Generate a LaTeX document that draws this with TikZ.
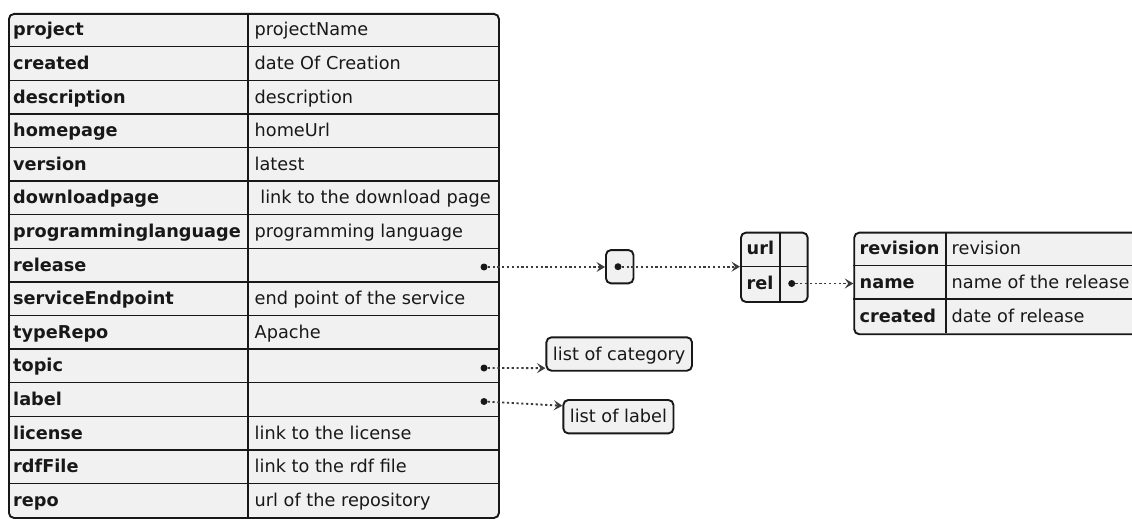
\documentclass[tikz,border=0pt]{standalone}
\usepackage{fontspec}
\setmainfont{DejaVu Sans}
\usetikzlibrary{arrows.meta,calc}
\definecolor{cellfill}{HTML}{F1F1F1}
\definecolor{ink}{HTML}{181818}

\begin{document}
\begin{tikzpicture}[x=1pt,y=-1pt,
  txt/.style={inner sep=0pt, text=ink, font=\fontsize{17.7}{21}\selectfont},
  key/.style={txt, anchor=base west, font=\fontsize{17.7}{21}\selectfont\bfseries},
  val/.style={txt, anchor=base west},
  frame/.style={draw=ink, fill=cellfill, line width=1.9pt, rounded corners=5pt},
  rule/.style={draw=ink, line width=1.4pt},
  pin/.style={circle, fill=ink, inner sep=0pt, minimum size=7pt},
  link/.style={draw=ink!85, line width=1.8pt, dash pattern=on 2.2pt off 2.6pt,
    -{Stealth[length=8.5pt,width=10pt,inset=3.5pt]}},
  tag/.style={frame, txt, inner xsep=6.5pt, inner ysep=0pt,
    text height=14pt, text depth=2pt, minimum height=33.4pt}
]
\useasboundingbox (0,0) rectangle (1132,519);
\clip (0,0) rectangle (1132,519);
\fill[white] (0,0) rectangle (1132,519);

% ---- project record ----
\node[frame, anchor=north west, minimum width=490pt, minimum height=504pt] (main) at (8,13) {};
\draw[rule] (248,13) -- (248,517);
\foreach \i in {1,...,14}
  \draw[rule] (8,{13+33.6*\i}) -- (498,{13+33.6*\i});

\foreach \k/\v [count=\i] in {
  project/projectName,
  created/date Of Creation,
  description/description,
  homepage/homeUrl,
  version/latest,
  downloadpage/\ link to the download page,
  programminglanguage/programming language,
  release/,
  serviceEndpoint/end point of the service,
  typeRepo/Apache,
  topic/,
  label/,
  license/link to the license,
  rdfFile/link to the rdf file,
  repo/url of the repository}
{
  \node[key] (k\i) at (13,{13+33.6*(\i-0.5)+6}) {\k};
  \node[val] (v\i) at (254.5,{13+33.6*(\i-0.5)+6}) {\v};
}

\node[pin] (dRelease) at (484,267) {};
\node[pin] (dTopic) at (484,368) {};
\node[pin] (dLabel) at (484,401.5) {};

% ---- release reference ----
\node[frame, minimum width=27.5pt, minimum height=33.3pt] (ref) at (619.7,266.7) {};
\node[pin] (dRef) at (618,266.7) {};

% ---- url / rel record ----
\node[frame, anchor=north west, minimum width=66.7pt, minimum height=69.3pt] (urlrel) at (740,231.7) {};
\draw[rule] (740,266.3) -- (806.7,266.3);
\draw[rule] (780,231.7) -- (780,301);
\node[key] (kUrl) at (746.5,254.8) {url};
\node[key] (kRel) at (746.5,289.5) {rel};
\node[pin] (dRel) at (791.7,283.5) {};

% ---- release details record ----
\node[frame, anchor=north west, minimum width=320pt, minimum height=101.6pt] (rel) at (853.3,231.7) {};
\draw[rule] (853.3,265.7) -- (1173.3,265.7);
\draw[rule] (853.3,299) -- (1173.3,299);
\draw[rule] (946,231.7) -- (946,333.3);
\node[key] (kRev) at (859.5,254.7) {revision};
\node[val] (vRev) at (951.5,254.7) {revision};
\node[key] (kName) at (859.5,288.3) {name};
\node[val] (vName) at (951.5,288.3) {name of the release};
\node[key] (kCre) at (859.5,322.2) {created};
\node[val] (vCre) at (951.5,322.2) {date of release};

% ---- list boxes ----
\node[tag] (cat) at (619.2,354) {list of category};
\node[tag] (lab) at (618.4,416.7) {list of label};

% ---- connectors ----
\draw[link] (dRelease) -- (ref.west |- dRelease);
\draw[link] (dRef) -- (urlrel.west |- dRef);
\draw[link] (dRel) -- (rel.west |- dRel);
\draw[link] (dTopic) -- ($(cat.south west)+(0,-3.5)$);
\draw[link] (dLabel) -- ($(lab.north west)+(0,6.7)$);
\end{tikzpicture}
\end{document}
